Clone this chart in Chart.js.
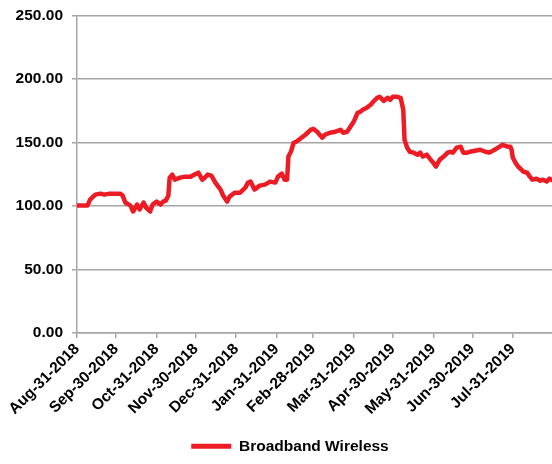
<!DOCTYPE html>
<html><head><meta charset="utf-8">
<script src="https://cdn.jsdelivr.net/npm/chart.js@4"></script>
<style>html,body{margin:0;padding:0;background:#fff}#wrap{width:552px;height:464px}</style>
</head><body><div id="wrap"><canvas id="c" width="552" height="464"></canvas></div>
<script>
const seriesName = 'Broadband Wireless';
const startDate = 'Aug-31-2018';
// days after the start date
const dayOffsets = [
  0,4,8,10,14,18,21,25,29,33,
  35,37,41,43,46,48,51,53,56,58,
  61,64,66,68,70,71,73,75,79,83,
  87,90,93,96,98,100,103,106,110,112,
  115,117,121,125,129,131,133,136,140,144,
  148,152,154,157,159,161,162,164,166,168,
  171,175,179,181,184,188,190,194,198,202,
  204,207,209,212,215,217,219,222,225,227,
  230,232,235,238,240,242,245,248,250,251,
  253,255,258,261,263,265,268,271,273,275,
  278,281,284,286,288,291,294,296,299,301,
  305,309,313,316,320,324,326,330,332,333,
  334,336,338,339,342,345,347,349,352,355,
  357,360,362,364
];
const values = [
  100.4,100.4,100.4,105.1,109.0,109.8,109.0,109.8,109.8,109.8,
  108.3,102.8,100.4,95.7,101.2,97.3,102.8,98.8,95.7,101.2,
  103.5,101.2,103.5,104.3,108.3,122.4,124.8,120.8,122.4,123.2,
  123.2,124.8,126.3,120.8,122.4,124.8,124.0,118.5,113.0,108.3,
  103.5,107.5,110.6,110.6,114.5,118.5,119.3,113.0,116.1,116.9,
  119.3,118.5,123.2,125.6,120.8,120.8,139.0,143.0,149.9,150.7,
  153.1,156.2,160.1,160.9,158.6,153.9,156.2,157.8,158.6,160.1,
  157.8,158.6,161.7,166.4,173.5,174.3,175.9,177.4,179.8,182.2,
  185.3,186.1,182.9,185.3,183.7,186.1,186.1,185.3,175.9,152.3,
  146.0,142.8,142.1,140.5,142.1,139.0,140.5,136.6,134.2,131.1,
  136.6,139.0,142.1,142.8,142.1,146.0,146.8,142.1,142.1,142.8,
  143.6,144.4,142.8,142.1,144.4,146.8,148.3,146.8,146.8,144.4,
  138.1,134.2,131.1,130.3,127.1,126.3,123.2,120.8,121.6,120.0,
  120.8,119.3,121.6,120.5
];
const tickLabels = ['Aug-31-2018','Sep-30-2018','Oct-31-2018','Nov-30-2018','Dec-31-2018','Jan-31-2019',
  'Feb-28-2019','Mar-31-2019','Apr-30-2019','May-31-2019','Jun-30-2019','Jul-31-2019'];
const yMin = 0, yMax = 250, yStep = 50;

const MONTHS = {Jan:0,Feb:1,Mar:2,Apr:3,May:4,Jun:5,Jul:6,Aug:7,Sep:8,Oct:9,Nov:10,Dec:11};
function parseLabel(s){ const [m,d,y] = s.split('-'); return Date.UTC(+y, MONTHS[m], +d); }
const t0 = parseLabel(startDate);
const tickPos = tickLabels.map(s => Math.round((parseLabel(s) - t0) / 86400000));

const RED = '#ED1C24';
const GRID = '#a6a6a6';
const FONT = {family: '"Liberation Sans", Arial, sans-serif', size: 15.5, weight: 'bold'};

const legendShift = {
  id: 'legendShift',
  afterLayout(chart) { if (chart.legend) { chart.legend.left += 14; chart.legend.right += 14; } }
};

new Chart(document.getElementById('c'), {
  type: 'line',
  data: {
    datasets: [{
      label: seriesName,
      data: dayOffsets.map((d, i) => ({x: d, y: values[i]})),
      borderColor: RED,
      backgroundColor: RED,
      borderWidth: 4.5,
      pointRadius: 0,
      tension: 0,
      borderJoinStyle: 'round',
      borderCapStyle: 'round'
    }]
  },
  plugins: [legendShift],
  options: {
    responsive: false,
    animation: false,
    layout: {padding: {top: 0, right: 0, left: 0, bottom: 0}},
    scales: {
      x: {
        type: 'linear',
        min: 0,
        max: dayOffsets[dayOffsets.length - 1],
        afterBuildTicks: sc => { sc.ticks = tickPos.map(v => ({value: v})); },
        afterFit: sc => { sc.height = 101.5; },
        ticks: {
          autoSkip: false, minRotation: 45, maxRotation: 45, padding: 2,
          color: '#000', font: FONT,
          callback: (v, i) => tickLabels[i]
        },
        grid: {display: true, drawOnChartArea: false, drawTicks: true, tickLength: 5, color: GRID, lineWidth: 1.5},
        border: {display: true, color: GRID, width: 1.5}
      },
      y: {
        min: yMin, max: yMax,
        afterFit: sc => { sc.width = 77; sc.paddingTop = 15.7; sc.paddingBottom = 0; },
        ticks: {stepSize: yStep, padding: 9, color: '#000', font: FONT, callback: v => v.toFixed(2)},
        grid: {color: GRID, lineWidth: 1.5, tickLength: 5},
        border: {display: true, color: GRID, width: 1.5}
      }
    },
    plugins: {
      legend: {
        position: 'bottom',
        labels: {
          boxWidth: 40, boxHeight: 5, padding: 4, color: '#000', font: FONT,
          generateLabels: chart => {
            const items = Chart.defaults.plugins.legend.labels.generateLabels(chart);
            items.forEach(it => { it.lineWidth = 0; it.fillStyle = RED; it.strokeStyle = RED; });
            return items;
          }
        }
      },
      tooltip: {enabled: false}
    }
  }
});
</script>
</body></html>
